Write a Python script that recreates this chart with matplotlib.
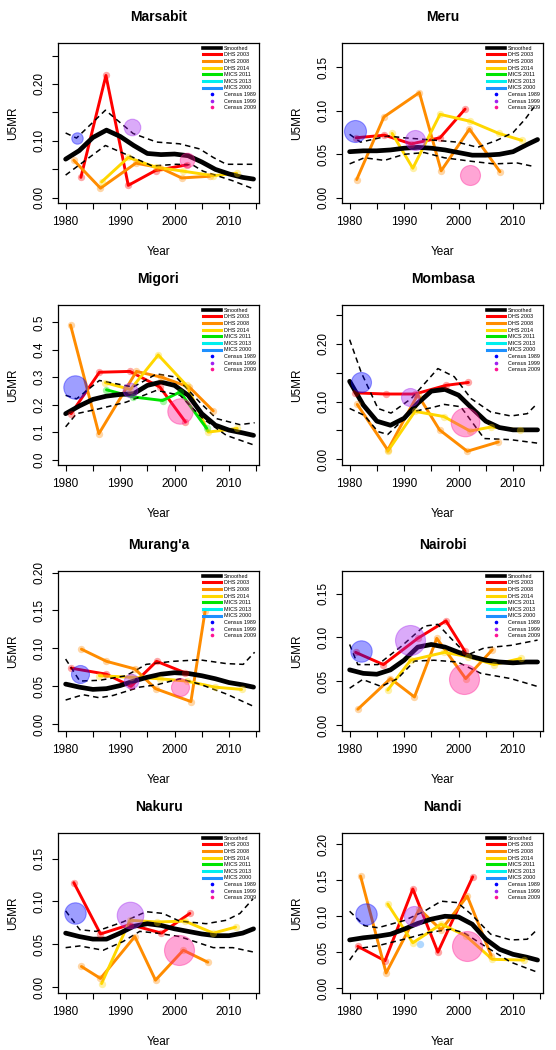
import numpy as np
import matplotlib
matplotlib.use("Agg")
import matplotlib.pyplot as plt
from matplotlib.lines import Line2D

plt.rcParams["font.family"] = ["Liberation Sans", "DejaVu Sans"]

counties = ["Marsabit", "Meru", "Migori", "Mombasa", "Murang'a", "Nairobi", "Nakuru", "Nandi"]

# smoothed estimate, read on a common grid of years
smooth_years = [1980, 1982.5, 1985, 1987.5, 1990, 1992.5, 1995, 1997.5,
                2000, 2002.5, 2005, 2007.5, 2010, 2012.5, 2014.5]
smoothed = {
    "Marsabit": [0.068, 0.083, 0.106, 0.119, 0.108, 0.092, 0.078, 0.076, 0.077, 0.074, 0.063, 0.050, 0.042, 0.036, 0.033],
    "Meru":     [0.053, 0.054, 0.054, 0.055, 0.057, 0.058, 0.057, 0.055, 0.052, 0.049, 0.049, 0.050, 0.053, 0.061, 0.067],
    "Migori":   [0.167, 0.195, 0.219, 0.231, 0.237, 0.240, 0.270, 0.282, 0.270, 0.234, 0.167, 0.125, 0.107, 0.097, 0.088],
    "Mombasa":  [0.135, 0.094, 0.066, 0.059, 0.071, 0.097, 0.118, 0.121, 0.111, 0.088, 0.066, 0.055, 0.051, 0.051, 0.051],
    "Murang'a": [0.053, 0.049, 0.046, 0.047, 0.051, 0.057, 0.062, 0.066, 0.068, 0.067, 0.064, 0.060, 0.055, 0.052, 0.049],
    "Nairobi":  [0.063, 0.059, 0.058, 0.063, 0.074, 0.089, 0.092, 0.089, 0.083, 0.078, 0.074, 0.072, 0.071, 0.072, 0.072],
    "Nakuru":   [0.063, 0.059, 0.056, 0.056, 0.063, 0.071, 0.074, 0.072, 0.068, 0.065, 0.062, 0.060, 0.060, 0.063, 0.068],
    "Nandi":    [0.067, 0.070, 0.072, 0.075, 0.082, 0.090, 0.096, 0.100, 0.099, 0.089, 0.068, 0.054, 0.047, 0.043, 0.039],
}

# dashed uncertainty band: (year, value) pairs
upper = {
    "Marsabit": [(1980, 0.114), (1982, 0.105), (1987.3, 0.154), (1992.4, 0.113), (1996.7, 0.098), (2000.9, 0.095),
                 (2004.6, 0.086), (2007.1, 0.071), (2009.5, 0.059), (2014.7, 0.059)],
    "Meru": [(1980, 0.073), (1982, 0.064), (1987, 0.071), (1990, 0.069), (1994, 0.067), (1999.8, 0.064),
             (2003.5, 0.058), (2007, 0.066), (2010, 0.075), (2012.3, 0.091), (2013.8, 0.104)],
    "Migori": [(1980, 0.234), (1982, 0.221), (1986.2, 0.288), (1992.4, 0.264), (1996.7, 0.312), (2000.3, 0.300),
               (2004.6, 0.209), (2007.7, 0.149), (2012, 0.127), (2014.7, 0.134)],
    "Mombasa": [(1980, 0.207), (1982.1, 0.151), (1985.2, 0.088), (1987.6, 0.080), (1991.3, 0.105), (1996.2, 0.157),
                (1999.2, 0.143), (2002.3, 0.105), (2005.9, 0.082), (2009.6, 0.075), (2012.6, 0.079), (2014.5, 0.097)],
    "Murang'a": [(1980, 0.086), (1982.6, 0.057), (1986.2, 0.058), (1991.1, 0.064), (1994.8, 0.079), (1999.7, 0.083),
                 (2004.6, 0.085), (2009.5, 0.080), (2012.6, 0.079), (2014.7, 0.095)],
    "Nairobi": [(1980, 0.092), (1981.5, 0.069), (1985.2, 0.069), (1989.5, 0.090), (1993.7, 0.113), (1996.2, 0.115),
                (1998.6, 0.099), (2001.6, 0.080), (2004.7, 0.088), (2009.6, 0.091), (2014.5, 0.097)],
    "Nakuru": [(1980, 0.089), (1982.6, 0.067), (1985.6, 0.065), (1990.5, 0.076), (1994.8, 0.088), (1997.9, 0.086),
               (2000.9, 0.077), (2005.8, 0.074), (2009.5, 0.078), (2012, 0.086), (2014.4, 0.103)],
    "Nandi": [(1980, 0.107), (1982.7, 0.087), (1985.2, 0.084), (1990, 0.094), (1993.7, 0.107), (1996.8, 0.121),
              (1999.8, 0.119), (2002.3, 0.103), (2005.9, 0.075), (2009.6, 0.067), (2012.6, 0.068), (2014.5, 0.082)],
}
lower = {
    "Marsabit": [(1980, 0.040), (1987.3, 0.092), (1992.4, 0.071), (1995.9, 0.056), (2000.3, 0.059), (2003.3, 0.058),
                 (2005.2, 0.047), (2010.7, 0.030), (2014.7, 0.015)],
    "Meru": [(1980, 0.039), (1982.7, 0.046), (1986.4, 0.043), (1990, 0.050), (1993.7, 0.052), (1997.4, 0.046),
             (2002.3, 0.042), (2006.5, 0.039), (2010.8, 0.040), (2013.8, 0.036)],
    "Migori": [(1980, 0.119), (1982, 0.167), (1986.2, 0.185), (1991.1, 0.209), (1996.7, 0.252), (2001, 0.234),
               (2005.2, 0.149), (2009.5, 0.088), (2014.4, 0.054)],
    "Mombasa": [(1980, 0.088), (1982.7, 0.076), (1985.2, 0.048), (1987, 0.043), (1991.3, 0.082), (1994.9, 0.089),
                (1997.4, 0.095), (2000.4, 0.091), (2004.7, 0.036), (2009.6, 0.034), (2014.5, 0.028)],
    "Murang'a": [(1980, 0.032), (1983.2, 0.039), (1986.2, 0.035), (1988.7, 0.038), (1993.6, 0.049), (1996.7, 0.052),
                 (2001, 0.060), (2004.6, 0.053), (2009.5, 0.040), (2014.4, 0.024)],
    "Nairobi": [(1980, 0.042), (1982.4, 0.052), (1985.8, 0.044), (1988.8, 0.053), (1991.9, 0.073), (1995.5, 0.074),
                (1999.8, 0.072), (2004.1, 0.059), (2009.6, 0.053), (2014.5, 0.044)],
    "Nakuru": [(1980, 0.046), (1982.6, 0.048), (1986.9, 0.043), (1990.5, 0.053), (1993.6, 0.065), (1996.7, 0.063),
               (2000.9, 0.059), (2007.1, 0.046), (2010.7, 0.046), (2014.4, 0.041)],
    "Nandi": [(1980, 0.039), (1981.5, 0.055), (1985.2, 0.059), (1990, 0.068), (1994.3, 0.077), (1998.6, 0.082),
              (2001, 0.077), (2004.7, 0.059), (2009.6, 0.036), (2014.5, 0.022)],
}

# survey estimates: county -> (years, U5MR)
dhs2003 = {
    "Marsabit": ([1982.8, 1987.4, 1991.5, 1996.5, 2002.3], [0.036, 0.215, 0.022, 0.048, 0.058]),
    "Meru": ([1981.2, 1986.4, 1991.3, 1996.6, 2001.2], [0.069, 0.072, 0.062, 0.069, 0.102]),
    "Migori": ([1981, 1986.2, 1991.8, 1997.3, 2002], [0.167, 0.318, 0.321, 0.264, 0.137]),
    "Mombasa": ([1981, 1986.6, 1992, 1997.7, 2001.8], [0.115, 0.113, 0.113, 0.128, 0.133]),
    "Murang'a": ([1981, 1987.5, 1992, 1996.7, 2001.9], [0.074, 0.066, 0.050, 0.083, 0.068]),
    "Nairobi": ([1981.1, 1986.2, 1992.5, 1997.7, 2001.2], [0.083, 0.069, 0.099, 0.119, 0.084]),
    "Nakuru": ([1981.5, 1986.4, 1991.8, 1997.6, 2002.8], [0.122, 0.062, 0.073, 0.063, 0.086]),
    "Nandi": ([1981.5, 1986.5, 1991.6, 1996.2, 2002.6], [0.058, 0.038, 0.138, 0.050, 0.155]),
}
dhs2008 = {
    "Marsabit": ([1981.5, 1986.4, 1992.9, 1997.3, 2001.3, 2006.5], [0.066, 0.017, 0.061, 0.053, 0.035, 0.038]),
    "Meru": ([1981.3, 1986.3, 1992.8, 1996.8, 2002.0, 2007.6], [0.021, 0.093, 0.121, 0.031, 0.079, 0.030]),
    "Migori": ([1980.9, 1986.1, 1993, 1997.6, 2002.7, 2007.1], [0.490, 0.094, 0.321, 0.300, 0.264, 0.177]),
    "Mombasa": ([1981.4, 1987, 1992.5, 1996.5, 2001.6, 2007.3], [0.095, 0.016, 0.112, 0.051, 0.014, 0.030]),
    "Murang'a": ([1982.9, 1987.5, 1992.7, 1996.5, 2003, 2005.6], [0.099, 0.083, 0.073, 0.047, 0.030, 0.149]),
    "Nairobi": ([1981.5, 1987.5, 1991.9, 1996, 2001.3, 2006.2], [0.018, 0.053, 0.032, 0.099, 0.053, 0.086]),
    "Nakuru": ([1982.9, 1986.4, 1992.7, 1996.5, 2001.6, 2006.1], [0.024, 0.010, 0.059, 0.008, 0.043, 0.029]),
    "Nandi": ([1982, 1986.7, 1992.8, 1996.8, 2001.6, 2006], [0.156, 0.021, 0.110, 0.081, 0.128, 0.045]),
}
dhs2014 = {
    "Marsabit": ([1986.6, 1991.5, 1996.5, 2001.5, 2007.1, 2011.4], [0.028, 0.071, 0.054, 0.047, 0.039, 0.043]),
    "Meru": ([1987.8, 1991.6, 1996.6, 2002.1, 2007.4, 2011.6], [0.074, 0.034, 0.096, 0.088, 0.074, 0.066]),
    "Migori": ([1987.3, 1991.9, 1997, 2002.2, 2006.2, 2011.5], [0.280, 0.255, 0.381, 0.270, 0.100, 0.113]),
    "Mombasa": ([1987, 1992, 1997.3, 2002.1, 2006, 2011.2], [0.014, 0.083, 0.074, 0.049, 0.056, 0.051]),
    "Murang'a": ([1986.2, 1992, 1997.3, 2002.2, 2007.4, 2012.3], [0.064, 0.062, 0.060, 0.057, 0.049, 0.046]),
    "Nairobi": ([1987, 1991.2, 1997.4, 2001.8, 2006.5, 2011.4], [0.040, 0.074, 0.083, 0.078, 0.069, 0.076]),
    "Nakuru": ([1986.6, 1991.8, 1996.7, 2001.9, 2007.1, 2011.2], [0.004, 0.078, 0.076, 0.077, 0.063, 0.070]),
    "Nandi": ([1987, 1991.6, 1996.8, 2001.3, 2006.2, 2012], [0.117, 0.063, 0.089, 0.073, 0.040, 0.039]),
}
mics2011 = {
    "Migori": ([1987.5, 1992.4, 1997.8, 2001, 2005.9], [0.254, 0.228, 0.215, 0.246, 0.113]),
}
mics2013 = {}
mics2000 = {
    "Nandi": ([1993], [0.061]),
}

# census estimates: county -> (year, U5MR); radius reflects the weight of each census point
census1989 = {"Marsabit": (1982.0, 0.106), "Meru": (1981.0, 0.077), "Migori": (1981.8, 0.264),
              "Mombasa": (1982.0, 0.133), "Murang'a": (1982.7, 0.066), "Nairobi": (1982.0, 0.085),
              "Nakuru": (1981.8, 0.087), "Nandi": (1983.0, 0.103)}
census1999 = {"Marsabit": (1992.1, 0.125), "Meru": (1992.0, 0.066), "Migori": (1991.9, 0.255),
              "Mombasa": (1991.0, 0.108), "Murang'a": (1992.0, 0.057), "Nairobi": (1991.0, 0.097),
              "Nakuru": (1991.9, 0.084), "Nandi": (1991.9, 0.100)}
census2009 = {"Marsabit": (2002.2, 0.066), "Meru": (2002.1, 0.026), "Migori": (2001.0, 0.175),
              "Mombasa": (2001.2, 0.065), "Murang'a": (2001.0, 0.049), "Nairobi": (2001.0, 0.052),
              "Nakuru": (2000.9, 0.043), "Nandi": (2001.5, 0.059)}
census_radius = {"Marsabit": (5.7, 8.3, 7.3), "Meru": (11.0, 10.0, 10.0), "Migori": (11.7, 7.3, 12.7),
                 "Mombasa": (10.0, 9.0, 14.3), "Murang'a": (9.0, 7.3, 9.0), "Nairobi": (10.7, 15.0, 15.0),
                 "Nakuru": (10.7, 13.3, 15.0), "Nandi": (10.7, 10.0, 15.0)}

# y axis: (ymin, ymax, tick step, ticks that carry a label)
y_axis = {
    "Marsabit": (-0.009, 0.272, 0.05, [0.0, 0.1, 0.2]),
    "Meru": (-0.006, 0.178, 0.05, None),
    "Migori": (-0.02, 0.563, 0.1, None),
    "Mombasa": (-0.0098, 0.267, 0.05, [0.0, 0.1, 0.2]),
    "Murang'a": (-0.0088, 0.202, 0.05, None),
    "Nairobi": (-0.0069, 0.176, 0.05, None),
    "Nakuru": (-0.007, 0.180, 0.05, None),
    "Nandi": (-0.0069, 0.216, 0.05, None),
}

surveys = [("DHS 2003", dhs2003, "#FF0000"), ("DHS 2008", dhs2008, "#FF8C00"),
           ("DHS 2014", dhs2014, "#FFD700"), ("MICS 2011", mics2011, "#00E400"),
           ("MICS 2013", mics2013, "#00EEEE"), ("MICS 2000", mics2000, "#1E90FF")]
censuses = [("Census 1989", census1989, "#0000FF"), ("Census 1999", census1999, "#A020F0"),
            ("Census 2009", census2009, "#FF1493")]

fig = plt.figure(figsize=(5.56, 10.5), dpi=100)
col_left = [58, 342]
row_top = [43, 305, 571, 833]
W, H = 201, 160

for k, county in enumerate(counties):
    r, c = divmod(k, 2)
    ax = fig.add_axes([col_left[c] / 556, 1 - (row_top[r] + H) / 1050, W / 556, H / 1050])

    for name, data, color in surveys:
        if county in data:
            yrs, vals = data[county]
            ax.plot(yrs, vals, color=color, lw=2.1, solid_capstyle="round", solid_joinstyle="round", zorder=2)

    ax.plot(smooth_years, smoothed[county], color="black", lw=3.4, solid_capstyle="round", zorder=3)
    for band in (upper, lower):
        bx, by = zip(*band[county])
        ax.plot(bx, by, color="black", lw=1.1, ls=(0, (3.6, 2.6)), zorder=3)

    # small circles at survey points
    for name, data, color in surveys:
        if county in data:
            yrs, vals = data[county]
            ax.scatter(yrs, vals, s=28, color=color, alpha=0.35, lw=0, zorder=4)

    for i, (name, data, color) in enumerate(censuses):
        cx, cy = data[county]
        d_pt = 2 * census_radius[county][i] * 0.72
        ax.scatter([cx], [cy], s=d_pt ** 2, facecolor=color, edgecolor=color, lw=0.8, alpha=0.38, zorder=5)

    ymin, ymax, step, labelled = y_axis[county]
    ax.set_xlim(1978.6, 2015.5)
    ax.set_ylim(ymin, ymax)
    ax.set_xticks(np.arange(1980, 2016, 5))
    ax.set_xticklabels([str(y) if y % 10 == 0 else "" for y in range(1980, 2016, 5)])
    yt = np.arange(0, ymax, step)
    ax.set_yticks(yt)
    fmt = "%.1f" if step >= 0.1 else "%.2f"
    if labelled is None:
        ax.set_yticklabels([fmt % v for v in yt])
    else:
        ax.set_yticklabels([fmt % v if any(abs(v - l) < 1e-9 for l in labelled) else "" for v in yt])
    ax.tick_params(direction="out", length=4.2, width=0.8, labelsize=8.5, pad=5.5)
    ax.tick_params(axis="y", labelrotation=90, pad=4.5)
    for lbl in ax.get_yticklabels():
        lbl.set_va("center")
    for sp in ax.spines.values():
        sp.set_linewidth(0.9)

    ax.set_title(county, fontsize=10, fontweight="bold", pad=15.5)
    ax.set_xlabel("Year", fontsize=8.5, labelpad=12.5)
    ax.set_ylabel("U5MR", fontsize=8.5, labelpad=10.5)

    handles = [Line2D([], [], color="black", lw=2.6, label="Smoothed")]
    handles += [Line2D([], [], color=color, lw=2.2, label=name) for name, _, color in surveys]
    handles += [Line2D([], [], ls="none", marker="o", ms=1.6, color=color, label=name)
                for name, _, color in censuses]
    ax.legend(handles=handles, loc="upper right", fontsize=3.9, frameon=False, handlelength=3.3,
              handletextpad=0.6, labelspacing=0.3, borderaxespad=0.2, borderpad=0.3)

fig.savefig("out.png", dpi=100)
